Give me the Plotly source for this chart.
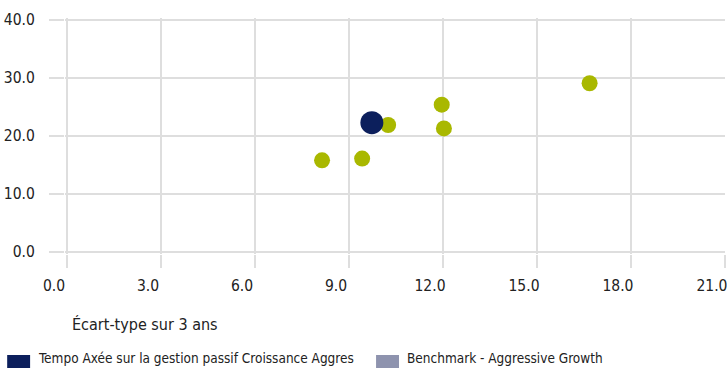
import plotly.graph_objects as go

# Data
peer_x = [8.14, 9.42, 10.25, 11.96, 12.03, 16.68]
peer_y = [15.8, 16.1, 21.9, 25.4, 21.3, 29.1]
fund_x = [9.73]
fund_y = [22.3]
x_ticks = [0, 3, 6, 9, 12, 15, 18, 21]
x_tick_labels = ["0.0", "3.0", "6.0", "9.0", "12.0", "15.0", "18.0", "21.0"]
y_ticks = [0, 10, 20, 30, 40]
y_tick_labels = ["0.0", "10.0", "20.0", "30.0", "40.0"]
legend_names = ["Tempo Axée sur la gestion passif Croissance Aggres", "Benchmark - Aggressive Growth"]
legend_colors = ["#0c1f5c", "#8e93ae"]

FONT = "DejaVu Sans Condensed, Liberation Sans Narrow, sans-serif"
GRID = "#dedede"
TXT = "#222222"

fig = go.Figure()
fig.add_trace(go.Scatter(x=peer_x, y=peer_y, mode="markers",
                         marker=dict(size=16, color="#a9b800", line=dict(width=0)),
                         showlegend=False, cliponaxis=False))
fig.add_trace(go.Scatter(x=fund_x, y=fund_y, mode="markers",
                         marker=dict(size=23, color="#0c1f5c", line=dict(width=0)),
                         showlegend=False, cliponaxis=False))

W, H = 727, 368
# plot area with a 2px pad around the 0..21 / 0..40 region so edge gridlines are drawn
L, R, T, B = 65, 0, 18, 114
pw, ph = W - L - R, H - T - B
xs = (727 - 67) / 21.0     # px per x unit
ys = (252 - 20) / 40.0     # px per y unit
x_range = [-2 / xs, 21.001]
y_range = [-2 / ys, 40 + 2 / ys]

def px_x(p):
    return (p - L) / pw

def px_y(p):
    return (H - B - p) / ph

fig.update_layout(
    width=W, height=H,
    margin=dict(l=L, r=R, t=T, b=B, pad=0),
    plot_bgcolor="white", paper_bgcolor="white",
    font=dict(family=FONT, size=15.5, color=TXT),
    xaxis=dict(range=x_range, tickvals=x_ticks, ticktext=x_tick_labels,
               showgrid=True, gridcolor=GRID, gridwidth=2, zeroline=False, showline=False,
               ticks="outside", ticklen=13, tickwidth=2, tickcolor=GRID,
               ticklabelshift=-13, ticklabelstandoff=4, ticklabeloverflow="allow",
               tickfont=dict(family=FONT, size=15.5, color=TXT)),
    yaxis=dict(range=y_range, tickvals=y_ticks, ticktext=y_tick_labels,
               showgrid=True, gridcolor=GRID, gridwidth=2, zeroline=False, showline=False,
               ticks="outside", ticklen=15, tickwidth=2, tickcolor=GRID,
               ticklabelstandoff=11, ticklabeloverflow="allow",
               tickfont=dict(family=FONT, size=15.5, color=TXT)),
    showlegend=False,
)

# axis title
fig.add_annotation(text="Écart-type sur 3 ans", xref="paper", yref="paper",
                   x=px_x(70), y=px_y(324), xanchor="left", yanchor="middle",
                   showarrow=False, font=dict(family=FONT, size=16, color=TXT))

# legend
leg_x = [7, 377]
for lx, name, col in zip(leg_x, legend_names, legend_colors):
    fig.add_shape(type="rect", xref="paper", yref="paper",
                  x0=px_x(lx), x1=px_x(lx + 23), y0=px_y(355), y1=px_y(380),
                  fillcolor=col, line=dict(width=0))
    fig.add_annotation(text=name, xref="paper", yref="paper",
                       x=px_x(lx + 30), y=px_y(367), xanchor="left", yanchor="bottom",
                       borderpad=0, showarrow=False,
                       font=dict(family=FONT, size=13.5, color=TXT))

fig.write_html("out.html")
